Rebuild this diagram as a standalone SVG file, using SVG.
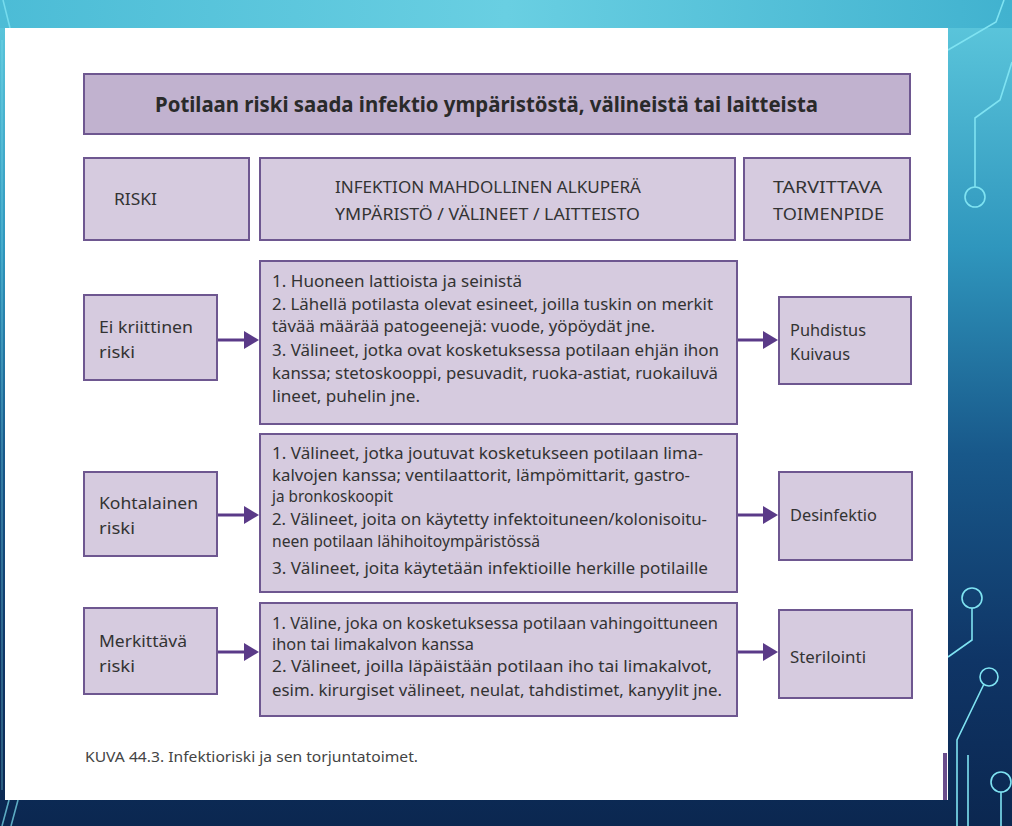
<svg xmlns="http://www.w3.org/2000/svg" width="1012" height="826" viewBox="0 0 1012 826">
<defs>
<linearGradient id="bg" x1="0" y1="0" x2="0" y2="1">
<stop offset="0" stop-color="#5fcade"/>
<stop offset="0.3" stop-color="#2f96bd"/>
<stop offset="0.55" stop-color="#18588a"/>
<stop offset="0.8" stop-color="#0f3566"/>
<stop offset="1" stop-color="#0b2750"/>
</linearGradient>
<linearGradient id="topband" x1="0" y1="0" x2="1" y2="0">
<stop offset="0" stop-color="#4cbcd6"/>
<stop offset="0.5" stop-color="#69cfe2"/>
<stop offset="1" stop-color="#41b2cf"/>
</linearGradient>
<marker id="ah" viewBox="0 0 15 18" refX="0" refY="9" markerWidth="15" markerHeight="18" markerUnits="userSpaceOnUse" orient="auto">
<path d="M0,0 L15,9 L0,18 z" fill="#5a3a88"/>
</marker>
<style>
.title{fill:#c1b2cf;stroke:#6e5790;stroke-width:2}
.box{fill:#d6cbdf;stroke:#6e5790;stroke-width:2}
.t{font-family:"Noto Sans","Liberation Sans",sans-serif;fill:#333333;font-size:16px}
.lab{font-family:"Noto Sans","Liberation Sans",sans-serif;fill:#333333;font-size:17px}
.tb{font-family:"Noto Sans","Liberation Sans",sans-serif;fill:#2a2a2a;font-size:21px;font-weight:bold}
.cap{font-family:"Noto Sans","Liberation Sans",sans-serif;fill:#444444;font-size:15px}
.arr{stroke:#5a3a88;stroke-width:3;fill:none;marker-end:url(#ah)}
.cir{stroke:#7fe3f2;stroke-width:1.6;fill:none}
</style>
</defs>
<rect x="0" y="0" width="1012" height="826" fill="url(#bg)"/>
<rect x="0" y="0" width="1012" height="28" fill="url(#topband)"/>
<g class="cir">
<path d="M1004,0 L996,22 L948,50"/>
<path d="M1012,62 L1000,100 L975,118 L975,187"/>
<circle cx="975" cy="197" r="10"/>
<circle cx="972" cy="598" r="10"/>
<path d="M972,608 L972,640 L948,657"/>
<circle cx="989" cy="677" r="9"/>
<path d="M984,684 L957,740 L957,826"/>
<path d="M968,755 L968,826"/>
<circle cx="1001" cy="782" r="10"/>
<path d="M1001,792 L1001,826"/>
<path d="M3,0 L10,28" opacity="0.8"/>
<path d="M2,826 L9,800 M11,826 L18,800" opacity="0.7"/>
<path d="M2,40 L2,790" opacity="0.35"/>
</g>
<rect x="5" y="28" width="943" height="772" fill="#ffffff"/>
<rect x="943" y="753" width="4" height="47" fill="#6a4d8c"/>

<g id="title">
<rect class="title" x="84" y="74" width="826" height="60"/>
<text class="tb" x="155" y="112" textLength="663" lengthAdjust="spacingAndGlyphs">Potilaan riski saada infektio ympäristöstä, välineistä tai laitteista</text>
</g>
<g id="head-riski">
<rect class="box" x="84" y="158" width="165" height="82"/>
<text class="lab" x="114" y="205" textLength="43" lengthAdjust="spacingAndGlyphs">RISKI</text>
</g>
<g id="head-origin">
<rect class="box" x="260" y="158" width="475" height="82"/>
<text class="lab" x="335" y="193" textLength="306" lengthAdjust="spacingAndGlyphs">INFEKTION MAHDOLLINEN ALKUPERÄ</text>
<text class="lab" x="335" y="220" textLength="305" lengthAdjust="spacingAndGlyphs">YMPÄRISTÖ / VÄLINEET / LAITTEISTO</text>
</g>
<g id="head-action">
<rect class="box" x="744" y="158" width="166" height="82"/>
<text class="lab" x="773" y="193" textLength="109" lengthAdjust="spacingAndGlyphs">TARVITTAVA</text>
<text class="lab" x="773" y="220" textLength="111" lengthAdjust="spacingAndGlyphs">TOIMENPIDE</text>
</g>

<g id="risk1">
<rect class="box" x="84" y="295" width="133" height="85"/>
<text class="lab" x="99" y="333" textLength="94" lengthAdjust="spacingAndGlyphs">Ei kriittinen</text>
<text class="lab" x="99" y="358" textLength="36" lengthAdjust="spacingAndGlyphs">riski</text>
</g>
<g id="origin1">
<rect class="box" x="260" y="261" width="477" height="163"/>
<text class="t" x="272" y="287" textLength="250" lengthAdjust="spacingAndGlyphs">1. Huoneen lattioista  ja seinistä</text>
<text class="t" x="272" y="310" textLength="441" lengthAdjust="spacingAndGlyphs">2. Lähellä potilasta olevat esineet, joilla tuskin on merkit</text>
<text class="t" x="272" y="332" textLength="383" lengthAdjust="spacingAndGlyphs">tävää määrää patogeenejä: vuode, yöpöydät jne.</text>
<text class="t" x="272" y="356" textLength="447" lengthAdjust="spacingAndGlyphs">3. Välineet, jotka ovat kosketuksessa potilaan ehjän ihon</text>
<text class="t" x="272" y="379" textLength="446" lengthAdjust="spacingAndGlyphs">kanssa; stetoskooppi, pesuvadit, ruoka-astiat, ruokailuvä</text>
<text class="t" x="272" y="402" textLength="148" lengthAdjust="spacingAndGlyphs">lineet, puhelin jne.</text>
</g>
<g id="action1">
<rect class="box" x="779" y="297" width="132" height="87"/>
<text class="lab" x="790" y="336" textLength="76" lengthAdjust="spacingAndGlyphs">Puhdistus</text>
<text class="lab" x="790" y="360" textLength="60" lengthAdjust="spacingAndGlyphs">Kuivaus</text>
</g>

<g id="risk2">
<rect class="box" x="84" y="472" width="133" height="84"/>
<text class="lab" x="99" y="509" textLength="99" lengthAdjust="spacingAndGlyphs">Kohtalainen</text>
<text class="lab" x="99" y="534" textLength="36" lengthAdjust="spacingAndGlyphs">riski</text>
</g>
<g id="origin2">
<rect class="box" x="260" y="434" width="477" height="158"/>
<text class="t" x="272" y="459" textLength="431" lengthAdjust="spacingAndGlyphs">1. Välineet, jotka joutuvat kosketukseen potilaan lima-</text>
<text class="t" x="272" y="481" textLength="418" lengthAdjust="spacingAndGlyphs">kalvojen kanssa; ventilaattorit, lämpömittarit, gastro-</text>
<text class="t" x="272" y="502" textLength="121" lengthAdjust="spacingAndGlyphs">ja bronkoskoopit</text>
<text class="t" x="272" y="525" textLength="435" lengthAdjust="spacingAndGlyphs">2. Välineet, joita on käytetty  infektoituneen/kolonisoitu-</text>
<text class="t" x="272" y="547" textLength="268" lengthAdjust="spacingAndGlyphs">neen potilaan lähihoitoympäristössä</text>
<text class="t" x="272" y="574" textLength="436" lengthAdjust="spacingAndGlyphs">3. Välineet, joita käytetään infektioille herkille potilaille</text>
</g>
<g id="action2">
<rect class="box" x="779" y="472" width="133" height="88"/>
<text class="lab" x="790" y="521" textLength="87" lengthAdjust="spacingAndGlyphs">Desinfektio</text>
</g>

<g id="risk3">
<rect class="box" x="84" y="608" width="133" height="86"/>
<text class="lab" x="99" y="647" textLength="88" lengthAdjust="spacingAndGlyphs">Merkittävä</text>
<text class="lab" x="99" y="672" textLength="36" lengthAdjust="spacingAndGlyphs">riski</text>
</g>
<g id="origin3">
<rect class="box" x="260" y="603" width="477" height="113"/>
<text class="t" x="272" y="629" textLength="446" lengthAdjust="spacingAndGlyphs">1. Väline, joka on kosketuksessa potilaan vahingoittuneen</text>
<text class="t" x="272" y="650" textLength="202" lengthAdjust="spacingAndGlyphs">ihon tai limakalvon kanssa</text>
<text class="t" x="272" y="672" textLength="440" lengthAdjust="spacingAndGlyphs">2. Välineet, joilla läpäistään potilaan iho tai limakalvot,</text>
<text class="t" x="272" y="696" textLength="450" lengthAdjust="spacingAndGlyphs">esim. kirurgiset välineet, neulat, tahdistimet, kanyylit jne.</text>
</g>
<g id="action3">
<rect class="box" x="779" y="610" width="133" height="88"/>
<text class="lab" x="790" y="663" textLength="76" lengthAdjust="spacingAndGlyphs">Sterilointi</text>
</g>

<g id="connectors">
<path class="arr" d="M218,340 H244"/>
<path class="arr" d="M738,340 H763"/>
<path class="arr" d="M218,515 H244"/>
<path class="arr" d="M738,515 H763"/>
<path class="arr" d="M218,652 H244"/>
<path class="arr" d="M738,652 H763"/>
</g>

<text class="cap" x="85" y="762" textLength="333" lengthAdjust="spacingAndGlyphs">KUVA 44.3. Infektioriski ja sen torjuntatoimet.</text>
</svg>
